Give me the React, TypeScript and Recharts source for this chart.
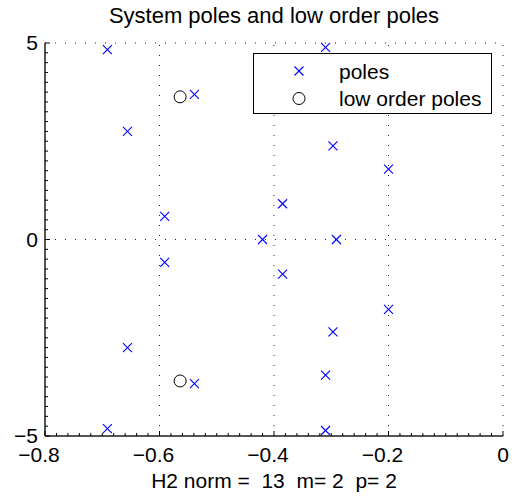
import { Legend, ReferenceLine, Scatter, ScatterChart, XAxis, YAxis } from "recharts";

// axis ticks (major); minor ticks are subdivisions of these
const X_TICKS = [-0.8, -0.6, -0.4, -0.2, 0];
const Y_TICKS = [-5, 0, 5];
const X_SUBDIV = 10;
const Y_SUBDIV = 20;

// system poles (real / imaginary parts)
const POLE_RE = [
  -0.691, -0.31, -0.539, -0.656, -0.297, -0.2, -0.385, -0.591, -0.42, -0.291,
  -0.591, -0.385, -0.2, -0.297, -0.656, -0.539, -0.31, -0.691, -0.31,
];
const POLE_IM = [
  4.83, 4.89, 3.69, 2.75, 2.38, 1.79, 0.91, 0.59, 0, 0,
  -0.58, -0.88, -1.78, -2.35, -2.75, -3.67, -3.45, -4.81, -4.86,
];

// low order poles
const LOW_RE = [-0.564, -0.564];
const LOW_IM = [3.63, -3.6];

const TITLE = "System poles and low order poles";
const XLABEL = "H2 norm =  13  m= 2  p= 2";

const FONT = "'Liberation Sans', Arial, Helvetica, sans-serif";
const FS = 21;
const BLUE = "#0000ff";

const poles = POLE_RE.map((re, i) => ({ re, im: POLE_IM[i] }));
const lowPoles = LOW_RE.map((re, i) => ({ re, im: LOW_IM[i] }));

function subdivide(majors: number[], n: number) {
  const out: number[] = [];
  for (let i = 0; i < majors.length - 1; i++) {
    const step = (majors[i + 1] - majors[i]) / n;
    for (let k = 0; k < n; k++) out.push(Math.round((majors[i] + k * step) * 1e6) / 1e6);
  }
  out.push(majors[majors.length - 1]);
  return out;
}

const X_ALL = subdivide(X_TICKS, X_SUBDIV);
const Y_ALL = subdivide(Y_TICKS, Y_SUBDIV);

const isMajor = (list: number[], v: number) => list.some((t) => Math.abs(t - v) < 1e-9);
const fmt = (v: number) => (v < 0 ? "\u2212" + Math.abs(v) : String(v));

function XTick(props: any) {
  const { x, y, payload } = props;
  const v = payload.value;
  const major = isMajor(X_TICKS, v);
  return (
    <g>
      <line x1={x} x2={x} y1={y} y2={y - (major ? 5 : 3)} stroke="#000" strokeWidth={1} />
      {major && (
        <text x={x} y={y + 26} dx={v < 0 ? -6 : 0} textAnchor="middle" fontFamily={FONT} fontSize={FS} fill="#000">
          {fmt(v)}
        </text>
      )}
    </g>
  );
}

function YTick(props: any) {
  const { x, y, payload } = props;
  const v = payload.value;
  const major = isMajor(Y_TICKS, v);
  return (
    <g>
      <line x1={x} x2={x + (major ? 5 : 3)} y1={y} y2={y} stroke="#000" strokeWidth={1} />
      {major && (
        <text x={38} y={y} dy="0.34em" textAnchor="end" fontFamily={FONT} fontSize={FS} fill="#000">
          {fmt(v)}
        </text>
      )}
    </g>
  );
}

function crossMark(cx: number, cy: number) {
  const s = 4.5;
  return (
    <g style={{ stroke: BLUE }}>
      <line x1={cx - s} y1={cy - s} x2={cx + s} y2={cy + s} stroke={BLUE} strokeWidth={1.1} />
      <line x1={cx - s} y1={cy + s} x2={cx + s} y2={cy - s} stroke={BLUE} strokeWidth={1.1} />
    </g>
  );
}

function ringMark(cx: number, cy: number) {
  return <circle cx={cx} cy={cy} r={6} stroke="#000" strokeWidth={1} fill="none" />;
}

function LegendBox() {
  return (
    <div
      style={{
        boxSizing: "border-box",
        width: 239,
        height: 61,
        border: "1px solid #000",
        background: "#fff",
      }}
    >
      <svg width={237} height={59} style={{ display: "block" }}>
        {crossMark(45, 17)}
        <text x={85} y={17} dy="0.36em" fontFamily={FONT} fontSize={FS} fill="#000">
          poles
        </text>
        {ringMark(45, 44.5)}
        <text x={85} y={44.5} dy="0.36em" fontFamily={FONT} fontSize={FS} fill="#000">
          low order poles
        </text>
      </svg>
    </div>
  );
}

function XLabel() {
  return (
    <text x={274} y={488} textAnchor="middle" fontFamily={FONT} fontSize={FS} fill="#000" style={{ whiteSpace: "pre" }}>
      {XLABEL}
    </text>
  );
}

const gridStyle = { stroke: "#222", strokeWidth: 1, strokeDasharray: "1 9" };

export default function App() {
  return (
    <div style={{ position: "relative", width: 514, height: 498, background: "#fff" }}>
      <style>{`body{margin:0}`}</style>
      <div
        style={{
          position: "absolute",
          top: 5,
          left: 0,
          width: 548,
          textAlign: "center",
          fontFamily: FONT,
          fontSize: 22,
          lineHeight: "22px",
          color: "#000",
          whiteSpace: "nowrap",
        }}
      >
        {TITLE}
      </div>
      <ScatterChart width={514} height={498} margin={{ top: 43, right: 11, bottom: 0, left: 0 }}>
        {X_TICKS.slice(1).map((t) => (
          <ReferenceLine key={"vx" + t} x={t} {...gridStyle} />
        ))}
        {Y_TICKS.slice(1).map((t) => (
          <ReferenceLine key={"hy" + t} y={t} {...gridStyle} />
        ))}
        <XAxis
          type="number"
          dataKey="re"
          domain={[-0.8, 0]}
          ticks={X_ALL}
          interval={0}
          tickSize={0}
          tickMargin={0}
          height={62}
          axisLine={{ stroke: "#555", strokeWidth: 2 }}
          tickLine={false}
          tick={<XTick />}
          label={<XLabel />}
        />
        <YAxis
          type="number"
          dataKey="im"
          domain={[-5, 5]}
          ticks={Y_ALL}
          interval={0}
          tickSize={0}
          tickMargin={0}
          width={45}
          axisLine={{ stroke: "#555", strokeWidth: 2 }}
          tickLine={false}
          tick={<YTick />}
        />
        <Legend
          layout="vertical"
          align="center"
          verticalAlign="middle"
          wrapperStyle={{ left: 253, top: 53, width: 239, height: 61 }}
          content={() => <LegendBox />}
        />
        <Scatter
          name="poles"
          data={poles}
          shape={(p: any) => crossMark(p.cx, p.cy)}
          isAnimationActive={false}
        />
        <Scatter
          name="low order poles"
          data={lowPoles}
          shape={(p: any) => ringMark(p.cx, p.cy)}
          isAnimationActive={false}
        />
      </ScatterChart>
    </div>
  );
}
